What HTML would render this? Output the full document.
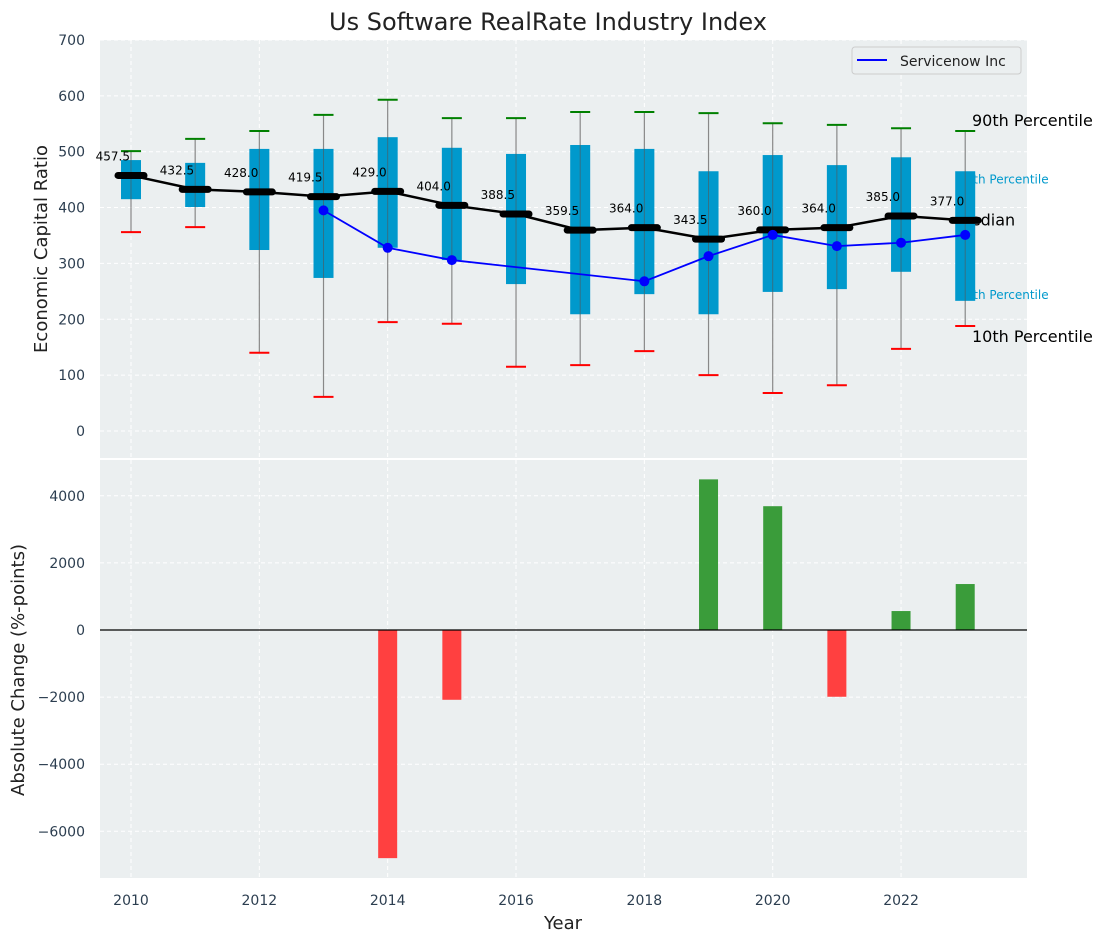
<!DOCTYPE html>
<html><head><meta charset="utf-8"><style>
body{margin:0;background:#fff;}
svg{display:block;font-family:"DejaVu Sans","Liberation Sans",sans-serif;}
</style></head><body>
<svg id="chart" width="1107" height="942"></svg>
<script>
const years=[2010,2011,2012,2013,2014,2015,2016,2017,2018,2019,2020,2021,2022,2023];
const p90=[501,523,537,566,593,560,560,571,571,569,551,548,542,537];
const q75=[485,480,505,505,526,507,496,512,505,465,494,476,490,465];
const medians=[457.5,432.5,428.0,419.5,429.0,404.0,388.5,359.5,364.0,343.5,360.0,364.0,385.0,377.0];
const q25=[415,401,324,274,328,306,263,209,245,209,249,254,285,233];
const p10=[356,365,140,61,195,192,115,118,143,100,68,82,147,188];
const snYears=[2013,2014,2015,2018,2019,2020,2021,2022,2023];
const snValues=[395,328,306,268,313,351,331,337,351];
const chgYears=[2014,2015,2019,2020,2021,2022,2023];
const chgValues=[-6800,-2080,4490,3690,-1990,565,1370];
const topTicks=[0,100,200,300,400,500,600,700];
const botTicks=[-6000,-4000,-2000,0,2000,4000];
const xTicks=[2010,2012,2014,2016,2018,2020,2022];

const NS="http://www.w3.org/2000/svg";
const svg=document.getElementById('chart');
function el(tag,attrs,parent,text){const e=document.createElementNS(NS,tag);for(const k in attrs)e.setAttribute(k,attrs[k]);if(text!==undefined)e.textContent=text;(parent||svg).appendChild(e);return e;}
const X0=100,X1=1027;
const xs=y=>131+(y-2010)*64.17;
const yt=v=>431-v*0.5586;
const yb=v=>630-v*0.03355;
const TT=40,TB=458,BT=460,BB=878;
const tick="#2c3e50";

let g;
g=el('rect',{x:X0,y:TT,width:X1-X0,height:TB-TT,fill:'#ebeff0'});

g=el('rect',{x:X0,y:BT,width:X1-X0,height:BB-BT,fill:'#ebeff0'});

xTicks.forEach(t=>{
 el('line',{x1:xs(t),x2:xs(t),y1:TT,y2:TB,stroke:'#fff','stroke-dasharray':'4,3','stroke-width':1});
 el('line',{x1:xs(t),x2:xs(t),y1:BT,y2:BB,stroke:'#fff','stroke-dasharray':'4,3','stroke-width':1});
 g=el('text',{x:xs(t),y:905,'font-size':14,fill:tick,'text-anchor':'middle'},svg,t);
 
});
topTicks.forEach(t=>{
 el('line',{x1:X0,x2:X1,y1:yt(t),y2:yt(t),stroke:'#fff','stroke-dasharray':'4,3'});
 g=el('text',{x:85,y:yt(t)+5,'font-size':14,fill:tick,'text-anchor':'end'},svg,t);
 
});
botTicks.forEach(t=>{
 el('line',{x1:X0,x2:X1,y1:yb(t),y2:yb(t),stroke:'#fff','stroke-dasharray':'4,3'});
 g=el('text',{x:85,y:yb(t)+5,'font-size':14,fill:tick,'text-anchor':'end'},svg,String(t).replace('-','\u2212'));
 
});
const lx=xs(2023);
[['90th Percentile',yt(p90[13]),16,'#000',972,-10],['75th Percentile',yt(q75[13]),12,'#0099cc',958,7],['Median',yt(medians[13]),16,'#000',957,0],['25th Percentile',yt(q25[13]),12,'#0099cc',958,-7],['10th Percentile',yt(p10[13]),16,'#000',972,11]].forEach(d=>{
 g=el('text',{x:d[4],y:d[1]+d[5]+5,'font-size':d[2],fill:d[3]},svg,d[0]);
 
});
years.forEach((yr,i)=>{
 const x=xs(yr);
 g=el('line',{x1:x,x2:x,y1:yt(p90[i]),y2:yt(p10[i]),stroke:'#888','stroke-width':1.2});
 
 g=el('rect',{x:x-10,y:yt(q75[i]),width:20,height:yt(q25[i])-yt(q75[i]),fill:'#0099cc'});
 
 el('line',{x1:x,x2:x,y1:yt(q75[i]),y2:yt(q25[i]),stroke:'#555','stroke-width':1,opacity:0.6});
 g=el('line',{x1:x-10,x2:x+10,y1:yt(p90[i]),y2:yt(p90[i]),stroke:'green','stroke-width':2});
 
 g=el('line',{x1:x-10,x2:x+10,y1:yt(p10[i]),y2:yt(p10[i]),stroke:'red','stroke-width':2});
 
});
g=el('polyline',{points:years.map((y,i)=>xs(y)+','+yt(medians[i])).join(' '),fill:'none',stroke:'#000','stroke-width':2.5});

years.forEach((yr,i)=>{
 const x=xs(yr),y=yt(medians[i]);
 g=el('line',{x1:x-13,x2:x+13,y1:y,y2:y,stroke:'#000','stroke-width':7,'stroke-linecap':'round'});
 
 g=el('text',{x:x-1,y:y-15,'font-size':12,fill:'#000','text-anchor':'end'},svg,medians[i].toFixed(1));
 
});
g=el('polyline',{points:snYears.map((y,i)=>xs(y)+','+yt(snValues[i])).join(' '),fill:'none',stroke:'blue','stroke-width':1.8});

snYears.forEach((yr,i)=>{
 g=el('circle',{cx:xs(yr),cy:yt(snValues[i]),r:5,fill:'blue'});
 
});
g=el('rect',{x:852,y:47,width:169,height:27,rx:3,fill:'#ebeff0',stroke:'#ccc'});

el('line',{x1:857,x2:887,y1:60,y2:60,stroke:'blue','stroke-width':2});
g=el('text',{x:900,y:66,'font-size':14,fill:'#222'},svg,'Servicenow Inc');

chgYears.forEach((yr,i)=>{
 const v=chgValues[i],x=xs(yr);
 g=el('rect',{x:x-9.5,y:Math.min(yb(v),yb(0)),width:19,height:Math.abs(yb(v)-yb(0)),fill:v<0?'#ff4040':'#3a9c3a'});
 
});
g=el('line',{x1:X0,x2:X1,y1:yb(0),y2:yb(0),stroke:'#000','stroke-width':1.2});

g=el('text',{x:548,y:30,'font-size':24,fill:'#222','text-anchor':'middle'},svg,'Us Software RealRate Industry Index');

g=el('text',{x:563,y:929,'font-size':18,fill:'#222','text-anchor':'middle'},svg,'Year');

g=el('text',{x:0,y:0,'font-size':18,fill:'#222','text-anchor':'middle',transform:'translate(47,249) rotate(-90)'},svg,'Economic Capital Ratio');

g=el('text',{x:0,y:0,'font-size':18,fill:'#222','text-anchor':'middle',transform:'translate(24,670) rotate(-90)'},svg,'Absolute Change (%-points)');

</script>
</body></html>
